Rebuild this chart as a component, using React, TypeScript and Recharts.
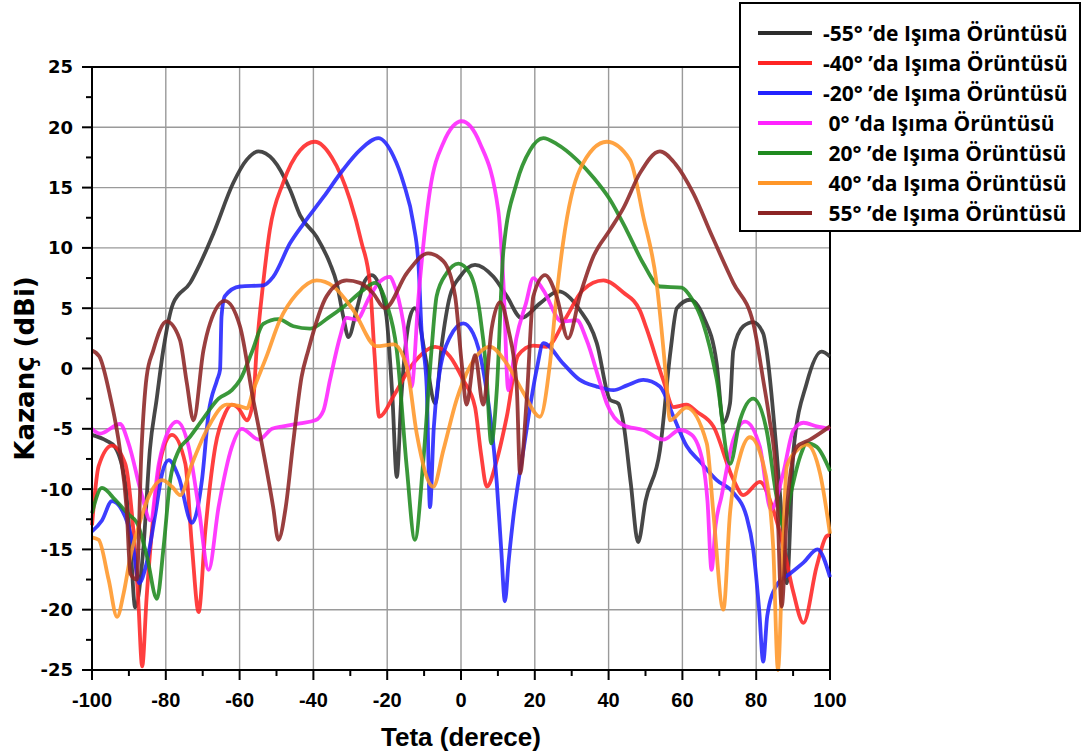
import React from 'react';
import { LineChart, Line, XAxis, YAxis, CartesianGrid, Legend, ReferenceLine } from 'recharts';

// Teta (derece) / Kazanç (dBi) pairs, one pair of arrays per pattern
const thetaM55 = [-100, -96, -93.8, -91, -89.5, -88.3, -86.1, -84.3, -82.5, -80.7, -78, -73.4, -70.7, -67.1, -61.7, -58.1, -54.9, -50.9, -46.3, -43.6, -39.1, -35.5, -33.7, -31.9, -30.5, -28.3, -26, -24.2, -22.4, -20.2, -18.6, -17.4, -16.2, -13.8, -12.5, -9.3, -7, -5.2, -3, -0.3, 3.8, 8.8, 12.4, 16.4, 21.4, 26.4, 32.2, 36.8, 40.4, 42.6, 44, 46, 48, 50, 53.9, 56.8, 58.5, 62.1, 65.7, 69.3, 71.1, 72.9, 73.8, 76.5, 79.2, 81.9, 82.8, 85.5, 87.3, 88.3, 90.1, 93.7, 97.7, 100];
const gainM55 = [-5.5, -6.0, -6.5, -9.5, -15, -19.8, -15, -6.7, -2.6, 1.5, 5.4, 7.1, 8.7, 11.2, 15.4, 17.3, 18.0, 17.3, 14.8, 12.7, 10.9, 8.7, 7.1, 4.3, 2.6, 4.85, 7.3, 7.75, 7.1, 4.3, -2.3, -9.0, -2.5, 4.3, 5.0, 0.4, -2.9, 2.0, 6.0, 7.6, 8.6, 7.6, 6.0, 4.2, 5.4, 6.4, 4.85, 2.1, -2.6, -2.9, -4.5, -9.5, -14.4, -11, -6.8, 1.5, 5.0, 5.7, 4.3, 0.4, -4.5, -2.9, 1.5, 3.5, 3.85, 2.9, 1.5, -6.8, -13.7, -17.8, -6.8, -1.2, 1.4, 1.0];

const thetaM40 = [-100, -98.2, -94.6, -91, -89.2, -87.5, -86.4, -85.2, -83.3, -81, -78.3, -74.7, -72.9, -71.1, -69.3, -66.6, -63.9, -62.1, -60.3, -58, -56.3, -55.4, -53.6, -51.8, -48.2, -43.6, -39.6, -35, -30.1, -27, -24.7, -23.4, -22.2, -21.5, -18.3, -13, -7, -3, 0.6, 3.8, 5.4, 7, 9.7, 12.4, 15.5, 19.6, 23.2, 28.6, 33, 38.6, 44, 48.5, 50.3, 54.8, 57.6, 61.1, 64, 68.4, 73.8, 76.5, 81, 84.6, 87.4, 90.1, 92.8, 96.4, 99.1, 100];
const gainM40 = [-13, -8.1, -6.4, -7.9, -12, -19, -24.7, -19, -12, -7, -5.5, -7.9, -14.8, -20.2, -13.5, -6.5, -3.7, -3.0, -3.3, -4.3, -2.6, 1.5, 7.1, 11.5, 15.4, 18.1, 18.8, 17.5, 14.0, 10.5, 7.1, 1.0, -4.0, -3.9, -2.3, 0.4, 1.8, 1.0, -0.95, -3.2, -7.0, -9.8, -7.6, -4.0, 1.1, 1.9, 1.8, 4.3, 6.5, 7.3, 6.3, 4.8, 3.3, -0.95, -3.2, -3.0, -3.6, -4.8, -9.2, -10.5, -9.4, -11.7, -14.8, -18.6, -21.1, -16.4, -13.9, -13.8];

const thetaM20 = [-100, -97.3, -94.6, -91, -89, -87.2, -85.5, -82.8, -81, -79.2, -76.5, -72.9, -70.2, -68.4, -66.1, -65.3, -64.9, -64, -59.9, -53.6, -50.9, -46.3, -42.7, -37.3, -31.9, -27.4, -22.4, -18.3, -15.6, -12.9, -11.5, -10.7, -9.3, -8.4, -7.4, -6.1, -3, 0.6, 3.3, 6, 9.7, 10.9, 11.9, 12.9, 14.2, 16.9, 20.5, 22.3, 27.7, 32, 36.8, 41.3, 45, 49.4, 53.9, 57.6, 61.1, 65, 69.3, 73.8, 77.4, 79.2, 80.8, 81.9, 83, 85.5, 89.2, 92.8, 96.6, 100];
const gainM20 = [-13.5, -12.6, -11.0, -12.3, -14.5, -17.8, -16.5, -12, -8.7, -7.6, -9.0, -12.8, -9.25, -3.7, -0.95, -0.1, 4.3, 6.0, 6.8, 6.9, 7.6, 10.4, 12.0, 14.2, 16.5, 18.1, 19.1, 17.6, 15.4, 12.0, 8.5, 3.2, -1.5, -11.5, -5.0, -0.95, 2.6, 3.75, 2.9, -0.1, -9.5, -15, -19.3, -16, -12.3, -6.8, -0.1, 2.1, 0.4, -0.9, -1.5, -1.8, -1.4, -0.95, -1.5, -4.0, -6.4, -7.8, -9.25, -10.3, -12.3, -15, -20, -24.3, -20.5, -18.0, -17, -16.1, -15, -17.3];

const thetaZero = [-100, -97.8, -92.4, -90.1, -86.4, -84.2, -81.9, -79.2, -77, -73.8, -71.1, -68.4, -65.7, -62.1, -59.4, -54.8, -51.2, -48.2, -43.6, -39.5, -37.3, -35.5, -32.8, -31, -28.3, -24.7, -22, -19.2, -18.3, -15.6, -13.4, -11.5, -8.4, -4.8, 0.2, 5.1, 10.1, 11.5, 12.8, 15, 17.6, 19.6, 22.3, 27.3, 31.4, 34, 37.7, 39.5, 44, 49.4, 54.8, 59.3, 62.5, 65.6, 66.8, 67.9, 69, 70.6, 73.8, 77, 81, 84, 87.3, 90.1, 92.8, 96.4, 100];
const gainZero = [-5.0, -5.4, -4.6, -6.2, -10.6, -12.6, -7.9, -5.1, -4.4, -6.5, -11.5, -16.7, -11.5, -6.5, -5.0, -5.9, -5.0, -4.8, -4.55, -4.3, -3.5, -0.95, 2.6, 4.2, 4.05, 6.0, 7.2, 7.6, 7.1, 3.75, -1.5, 6.0, 14.8, 18.7, 20.5, 18.7, 13.1, 7.1, -1.8, 2.5, 5.4, 7.5, 6.5, 3.9, 4.0, 2.4, -1.2, -2.9, -4.7, -5.1, -5.9, -5.1, -5.5, -7.9, -11, -16.7, -13, -10.6, -5.9, -4.4, -6.5, -11.7, -8.7, -5.1, -4.5, -4.8, -5.0];

const thetaP20 = [-100, -97.3, -93.7, -90.1, -87.8, -85.1, -82.4, -80.6, -78.8, -76.5, -73.8, -70.2, -65.7, -62.1, -59.9, -56.5, -53.6, -49.5, -45.4, -40.9, -36, -31.9, -26.5, -23.3, -20.2, -17.4, -14.7, -12.5, -10.2, -8, -6.6, -3.9, -0.7, 2.4, 5.1, 6.8, 8.2, 9.7, 11.5, 15.1, 18.7, 22.3, 26, 31.4, 36, 40.4, 45, 49.4, 53.9, 59.8, 62.5, 65.6, 69.3, 72.9, 75.6, 79.2, 82.8, 85.5, 87.4, 89.2, 91.9, 93.7, 96.4, 100];
const gainP20 = [-12, -9.9, -10.9, -12.1, -12.8, -15.6, -19.1, -14.8, -9.25, -6.8, -5.8, -4.3, -2.5, -1.8, -0.96, 1.5, 3.7, 4.1, 3.5, 3.3, 4.2, 5.1, 6.5, 7.1, 5.4, 1.5, -8.2, -14.2, -7.6, 1.5, 6.0, 7.9, 8.7, 7.9, 4.6, 0, -6.2, -1.8, 9.8, 15.4, 18.1, 19.1, 18.6, 17.3, 15.8, 14.0, 11.4, 8.7, 6.8, 6.7, 5.8, 3.75, -0.9, -7.9, -4.3, -2.5, -5.1, -10.6, -13.1, -10.6, -7.3, -6.2, -6.5, -8.5];

const thetaP40 = [-100, -98.2, -95.5, -93.2, -91.4, -89.6, -87.4, -84.6, -81, -78.3, -76.1, -72.9, -68.4, -63.5, -60.2, -58, -56.3, -52.7, -49.1, -44.5, -39.1, -34.6, -29.2, -22.9, -18.3, -14.7, -12, -7.5, -4.8, -1.2, 2.4, 7.9, 12.4, 16.9, 21.4, 24.1, 25.9, 27.7, 32.2, 39.5, 45.8, 49.4, 53, 55.7, 56.6, 61.1, 66.6, 68.4, 71.1, 72.9, 75.6, 78.3, 81.9, 84.6, 85.9, 87.2, 88.3, 91, 93.7, 97.3, 100];
const gainP40 = [-14, -14.2, -17.5, -20.6, -18.6, -15.6, -13.1, -10.6, -9.25, -9.8, -10.5, -7.9, -4.8, -3.0, -3.1, -3.3, -1.8, 1.0, 4.0, 6.2, 7.3, 6.8, 4.85, 1.85, 2.0, 0.15, -5.4, -9.8, -6.8, -2.6, 0.15, 1.8, 0.4, -2.0, -4.0, 0.4, 6.0, 10.5, 16.5, 18.8, 17.3, 12.6, 7.1, -1.2, -4.3, -3.25, -6.2, -12, -20.0, -12, -7.3, -5.7, -7.9, -14.8, -25, -15, -8.1, -6.8, -6.3, -8.7, -13.7];

const thetaP55 = [-100, -98, -95.1, -92.4, -90.6, -89.6, -87.9, -86.6, -85.2, -83.4, -79.8, -76.2, -74.3, -72.5, -69.8, -68, -64, -59.9, -56.3, -54.5, -50.9, -49.5, -47.5, -45.5, -43.2, -41.4, -36.4, -31, -27.4, -24, -20.6, -14.7, -8.9, -4.8, -1.6, 0.2, 1.5, 3.8, 6, 8.3, 10.6, 12.8, 15.1, 16, 17.8, 19.6, 22.8, 25.9, 29, 32.2, 35.9, 40.4, 44, 48.5, 53.9, 58, 63, 68, 73.8, 79.2, 81.9, 83.5, 85.5, 86.9, 88.5, 91, 94.6, 100];
const gainP55 = [1.5, 1.0, -2.3, -6.8, -11.7, -17, -17.5, -6.8, -0.7, 1.5, 3.9, 2.4, -1.2, -4.3, 1.5, 3.75, 5.6, 3.5, -2.6, -5.4, -11.5, -14.2, -11.5, -6.2, -0.7, 1.5, 6.0, 7.3, 7.1, 6.3, 5.0, 7.9, 9.55, 8.9, 6.0, 0.4, -3.0, 1.1, -3.0, 3.3, 5.5, 3.3, -1.5, -8.7, -2.6, 6.0, 7.75, 6.0, 2.5, 6.0, 9.3, 11.5, 13.3, 16.2, 18.0, 17.0, 14.5, 11, 7.1, 3.75, -0.95, -4, -9.2, -19.75, -11, -6.5, -5.9, -4.8];

const seriesNames = [
  '-55° ’de Işıma Örüntüsü',
  '-40° ’da Işıma Örüntüsü',
  '-20° ’de Işıma Örüntüsü',
  ' 0° ’da Işıma Örüntüsü',
  ' 20° ’de Işıma Örüntüsü',
  ' 40° ’da Işıma Örüntüsü',
  ' 55° ’de Işıma Örüntüsü',
];
const seriesColors = ['#2d2d2d', '#ff2424', '#2222ff', '#ff22ff', '#1f8a1f', '#ff9628', '#8c2424'];

const xTicks = [-100, -90, -80, -70, -60, -50, -40, -30, -20, -10, 0, 10, 20, 30, 40, 50, 60, 70, 80, 90, 100];
const yTicks = [-25, -22.5, -20, -17.5, -15, -12.5, -10, -7.5, -5, -2.5, 0, 2.5, 5, 7.5, 10, 12.5, 15, 17.5, 20, 22.5, 25];
const xGrid = [-80, -60, -40, -20, 0, 20, 40, 60, 80];
const yGrid = [-20, -15, -10, -5, 0, 5, 10, 15, 20];

const toPoints = (theta: number[], gain: number[]) => theta.map((t, i) => ({ theta: t, gain: gain[i] }));

const patterns = [
  toPoints(thetaM55, gainM55),
  toPoints(thetaM40, gainM40),
  toPoints(thetaM20, gainM20),
  toPoints(thetaZero, gainZero),
  toPoints(thetaP20, gainP20),
  toPoints(thetaP40, gainP40),
  toPoints(thetaP55, gainP55),
];

const XTick = (props: any) => {
  const { x, y, payload } = props;
  const major = payload.value % 20 === 0;
  return (
    <g>
      <line x1={x} x2={x} y1={y - 23} y2={y - (major ? 13 : 17)} stroke="#000" strokeWidth={2} />
      {major && (
        <text x={x} y={y} dy="0.71em" textAnchor="middle" fontFamily="'Liberation Sans', Arial, sans-serif" fontWeight="bold" fontSize={20} fill="#000">
          {payload.value}
        </text>
      )}
    </g>
  );
};

const YTick = (props: any) => {
  const { x, y, payload } = props;
  const major = payload.value % 5 === 0;
  return (
    <g>
      <line x1={x + (major ? 10 : 14)} x2={x + 20} y1={y} y2={y} stroke="#000" strokeWidth={2} />
      {major && (
        <text x={x + 1} y={y} dy="0.36em" textAnchor="end" fontFamily="'DejaVu Sans', sans-serif" fontWeight="bold" fontSize={18} fill="#000">
          {payload.value}
        </text>
      )}
    </g>
  );
};

// keep the legend rows in the order the lines were declared
const renderLegend = (props: any) => {
  const items = [...(props.payload || [])].sort(
    (a: any, b: any) => seriesNames.indexOf(a.value) - seriesNames.indexOf(b.value),
  );
  return (
    <div
      style={{
        boxSizing: 'border-box',
        width: 342,
        height: 230,
        border: '2px solid #000',
        background: '#fff',
        paddingTop: 14,
      }}
    >
      {items.map((entry: any) => (
        <div key={entry.value} style={{ display: 'flex', alignItems: 'center', height: 30 }}>
          <div style={{ width: 54, height: 4, background: entry.color, marginLeft: 17, marginRight: 11, flexShrink: 0 }} />
          <span
            style={{
              whiteSpace: 'pre',
              fontFamily: "'Open Sans', sans-serif",
              fontWeight: 700,
              fontSize: 21,
              color: '#000',
              lineHeight: '30px',
            }}
          >
            {entry.value}
          </span>
        </div>
      ))}
    </div>
  );
};

export default function App() {
  return (
    <div style={{ position: 'absolute', left: 0, top: 0, width: 1083, height: 755, background: '#fff' }}>
      <LineChart width={1083} height={755} margin={{ top: 67, right: 253, bottom: 0, left: 0 }}>
        <CartesianGrid stroke="#9a9a9a" strokeWidth={1.4} horizontalValues={yGrid} verticalValues={xGrid} />
        <XAxis
          type="number"
          dataKey="theta"
          domain={[-100, 100]}
          ticks={xTicks}
          interval={0}
          height={85}
          tickSize={10}
          tickMargin={13}
          tickLine={false}
          axisLine={{ stroke: '#000', strokeWidth: 2 }}
          tick={(p: any) => <XTick {...p} />}
          label={{
            value: 'Teta (derece)',
            position: 'insideBottom',
            offset: 9,
            style: { fontFamily: "'Liberation Sans', Arial, sans-serif", fontWeight: 'bold', fontSize: 26, fill: '#000' },
          }}
        />
        <YAxis
          type="number"
          domain={[-25, 25]}
          ticks={yTicks}
          interval={0}
          width={92}
          tickSize={10}
          tickMargin={10}
          tickLine={false}
          axisLine={{ stroke: '#000', strokeWidth: 2 }}
          tick={(p: any) => <YTick {...p} />}
          label={{
            value: 'Kazanç (dBi)',
            angle: -90,
            position: 'center',
            dx: -21,
            style: { fontFamily: "'DejaVu Sans', sans-serif", fontWeight: 'bold', fontSize: 26, fill: '#000' },
          }}
        />
        <ReferenceLine y={25} stroke="#000" strokeWidth={2} />
        <ReferenceLine x={100} stroke="#000" strokeWidth={2} />
        {patterns.map((data, i) => (
          <Line
            key={seriesNames[i]}
            data={data}
            dataKey="gain"
            name={seriesNames[i]}
            type="monotone"
            stroke={seriesColors[i]}
            strokeOpacity={0.88}
            strokeWidth={3.8}
            dot={false}
            activeDot={false}
            isAnimationActive={false}
          />
        ))}
        <Legend
          layout="vertical"
          align="center"
          verticalAlign="middle"
          content={renderLegend}
          wrapperStyle={{ left: 739, top: 2, width: 342, height: 230 }}
        />
      </LineChart>
    </div>
  );
}
